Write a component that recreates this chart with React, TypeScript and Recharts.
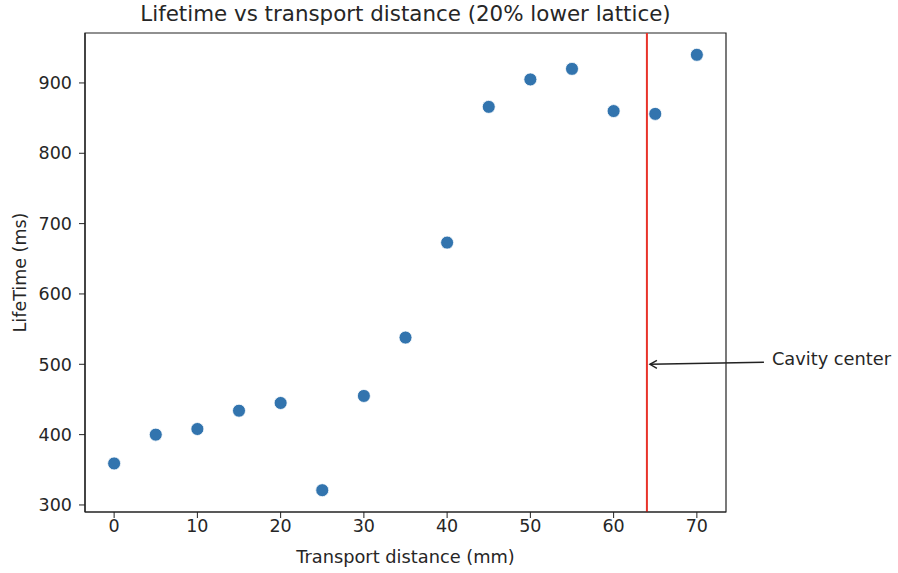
import React from "react"
import {
  ScatterChart,
  Scatter,
  XAxis,
  YAxis,
  ReferenceLine,
  ReferenceDot,
  ReferenceArea,
} from "recharts"

const distances = [0, 5, 10, 15, 20, 25, 30, 35, 40, 45, 50, 55, 60, 65, 70]
const lifetimes = [359, 400, 408, 434, 445, 321, 455, 538, 673, 866, 905, 920, 860, 856, 940]
const xTicks = [0, 10, 20, 30, 40, 50, 60, 70]
const yTicks = [300, 400, 500, 600, 700, 800, 900]
const xDomain = [-3.5, 73.5]
const yDomain = [290, 971]
const cavityX = 64
const arrowY = 500

const points = distances.map((d, i) => ({ distance: d, lifetime: lifetimes[i] }))

const font = "'DejaVu Sans', sans-serif"
const ink = "#262626"
const tickStyle = { fontSize: 17.5, fill: ink, fontFamily: font }

const Dot = (props: any) => (
  <circle cx={props.cx} cy={props.cy} r={6.5} fill="#3274ae" stroke="#ffffff" strokeWidth={0.8} />
)

const Annotation = (props: any) => {
  const { cx, cy } = props
  const tailX = cx + 117
  const tailY = cy - 2
  return (
    <g>
      <line x1={tailX} y1={tailY} x2={cx + 3} y2={cy} stroke="#222" strokeWidth={1.4} />
      <polyline
        points={`${cx + 10},${cy - 4} ${cx + 3},${cy} ${cx + 10},${cy + 4}`}
        fill="none"
        stroke="#222"
        strokeWidth={1.4}
      />
      <text x={cx + 125} y={cy + 1} fontSize={17.8} fill={ink} fontFamily={font}>
        Cavity center
      </text>
    </g>
  )
}

export default function App() {
  return (
    <div style={{ position: "absolute", left: 0, top: 0, width: 898, height: 573, background: "#fff" }}>
      <div
        style={{
          position: "absolute",
          left: 85,
          width: 641,
          top: 1,
          textAlign: "center",
          fontFamily: font,
          fontSize: 21.4,
          lineHeight: "26px",
          color: ink,
        }}
      >
        Lifetime vs transport distance (20% lower lattice)
      </div>
      <ScatterChart width={898} height={573} margin={{ top: 33, right: 172, bottom: 0, left: 0 }}>
        <XAxis
          type="number"
          dataKey="distance"
          domain={xDomain}
          ticks={xTicks}
          height={61}
          tickSize={6}
          tick={tickStyle}
          tickLine={{ stroke: "#222" }}
          axisLine={{ stroke: "#222", strokeWidth: 1.2 }}
          label={{
            value: "Transport distance (mm)",
            position: "insideBottom",
            offset: 10,
            style: { fontSize: 17.8, fill: ink, fontFamily: font },
          }}
        />
        <YAxis
          type="number"
          dataKey="lifetime"
          domain={yDomain}
          ticks={yTicks}
          width={85}
          tickSize={6}
          tick={{ ...tickStyle, dx: -5 }}
          tickLine={{ stroke: "#222" }}
          axisLine={{ stroke: "#222", strokeWidth: 1.2 }}
          label={{
            value: "LifeTime (ms)",
            angle: -90,
            position: "insideLeft",
            dx: 15,
            style: { fontSize: 17.5, fill: ink, fontFamily: font, textAnchor: "middle" },
          }}
        />
        <ReferenceArea
          x1={xDomain[0]}
          x2={xDomain[1]}
          y1={yDomain[0]}
          y2={yDomain[1]}
          fill="none"
          fillOpacity={0}
          stroke="#222"
          strokeWidth={1.2}
        />
        <Scatter data={points} shape={Dot} isAnimationActive={false} />
        <ReferenceLine x={cavityX} stroke="#e8332a" strokeWidth={2} />
        <ReferenceDot x={cavityX} y={arrowY} ifOverflow="visible" shape={Annotation} />
      </ScatterChart>
    </div>
  )
}
